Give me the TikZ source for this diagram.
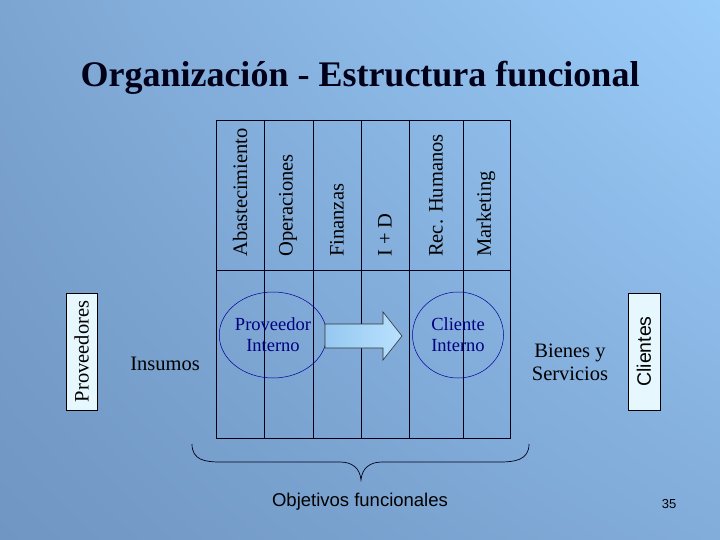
\documentclass[tikz,border=0pt]{standalone}
\usepackage{fontspec}
\setmainfont{Liberation Serif}
\newfontfamily\arialf{Liberation Sans}
\usetikzlibrary{shadings,shapes.geometric}
\definecolor{bgul}{RGB}{125,165,210}
\definecolor{bgur}{RGB}{155,205,250}
\definecolor{bgll}{RGB}{112,150,195}
\definecolor{bglr}{RGB}{130,172,218}
\definecolor{arl}{RGB}{150,200,240}
\definecolor{arr}{RGB}{185,225,255}
\begin{document}
\begin{tikzpicture}[x=1pt,y=-1pt,
  lbl/.style={font=\fontsize{20.5}{23}\selectfont, text=black},
  side/.style={draw=black, fill=cyan!10, line width=0.8pt},
  inner/.style={draw=blue!60!black, line width=0.5pt, font=\fontsize{18.5}{21}\selectfont, text=blue!50!black, align=center},
  grid/.style={draw=black!90!blue, line width=0.7pt}]
\shade[upper left=bgul, upper right=bgur, lower left=bgll, lower right=bglr]
  (0,0) rectangle (720,540);
\useasboundingbox (0,0) rectangle (720,540);
\node[font=\bfseries\fontsize{36}{40}\selectfont, text=black!90!blue] (title) at (360,78) {Organización - Estructura funcional};
% table
\draw[grid] (216,120) rectangle (510,438);
\draw[grid] (216,270) -- (510,270);
\foreach \x in {264,313,361,409,463}{\draw[grid] (\x,120) -- (\x,438);}
\foreach \x/\t [count=\i] in {240/Abastecimiento,288/Operaciones,337/Finanzas,385/I + D,436/Rec. Humanos,486/Marketing}
  {\node[lbl, rotate=90, anchor=west, inner sep=1pt] (c\i) at (\x,258) {\t};}
% sides
\node[side, minimum width=31, minimum height=117, inner sep=0] (prov) at (81.5,351.5) {};
\node[lbl, rotate=90, inner sep=0] (provt) at (prov.center) {Proveedores};
\node[side, minimum width=32, minimum height=117, inner sep=0] (cli) at (644,351.5) {};
\node[lbl, rotate=90, font=\arialf\fontsize{19.5}{22}\selectfont] (clit) at (cli.center) {Clientes};
\node[lbl] (ins) at (165,364) {Insumos};
\node[lbl, align=center] (bien) at (570,362) {Bienes y\\Servicios};
% inner
\node[inner, ellipse, minimum width=90, minimum height=86, inner sep=0] (pi) at (273,335) {Proveedor\\Interno};
\node[inner, ellipse, minimum width=91, minimum height=86, inner sep=0] (ci) at (458,335) {Cliente\\Interno};
\draw[black!80, line width=0.6pt, left color=arl, right color=arr]
  (325,324) -- (383,324) -- (383,312) -- (402,336) -- (383,360) -- (383,348) -- (325,348) -- cycle;
% brace
\draw[black!90!blue, line width=0.7pt] (192,444) .. controls (192,460) and (205,462) .. (220,462) -- (340,462)
  .. controls (352,462) and (360,468) .. (361,480) .. controls (362,468) and (370,462) .. (382,462) -- (500,462)
  .. controls (515,462) and (529,460) .. (529,444);
\node[font=\arialf\fontsize{18.5}{21}\selectfont] (obj) at (360,502) {Objetivos funcionales};
\node[font=\arialf\fontsize{13}{15}\selectfont] (num) at (669,504) {35};
\end{tikzpicture}
\end{document}
